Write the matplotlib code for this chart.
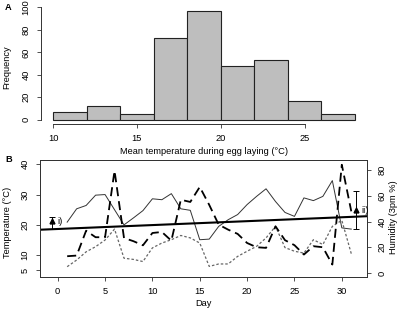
import matplotlib
matplotlib.use("Agg")
import matplotlib.pyplot as plt
import numpy as np

# ---- data ----
# panel A: histogram of mean temperature during egg laying
bin_edges = [10, 12, 14, 16, 18, 20, 22, 24, 26, 28]
counts = [7, 12, 5, 73, 97, 48, 53, 17, 5]

# panel B: daily weather
days = list(range(1, 32))
temp_max = [20.9, 25.3, 26.4, 29.8, 30.0, 25.0, 20.0, 22.3, 24.7, 28.6,
            28.3, 30.3, 25.3, 24.8, 15.1, 15.3, 19.5, 21.7, 23.4, 26.7,
            29.4, 31.9, 27.7, 24.1, 22.8, 28.9, 28.0, 29.4, 34.6, 19.0, 18.6]
temp_min = [6.2, 8.4, 11.1, 12.8, 15.0, 18.6, 9.0, 8.6, 7.9, 12.4,
            14.0, 15.1, 16.5, 15.7, 14.0, 6.3, 7.1, 7.1, 9.6, 11.3,
            12.9, 15.7, 19.5, 12.5, 11.3, 10.7, 15.1, 13.5, 19.5, 21.5, 10.5]
humidity = [13.0, 13.5, 32.9, 27.8, 27.8, 79.6, 27.2, 24.7, 21.5, 31.1,
            31.9, 25.1, 57.0, 55.3, 67.0, 53.0, 37.6, 33.7, 30.4, 23.3,
            20.0, 19.5, 36.3, 25.5, 21.6, 14.3, 20.8, 20.0, 6.5, 84.3, 48.0]

# trend line (temperature) : intercept, slope per day
trend_icpt = 18.64
trend_slope = 0.129

# summary bars i) temperature, ii) humidity
i_day, i_mean, i_lo, i_hi = -0.65, 21.2, 18.6, 22.6
ii_day, ii_mean, ii_lo, ii_hi = 31.5, 49.0, 34.0, 64.0

plt.rcParams['font.family'] = ['Liberation Sans', 'DejaVu Sans']
fs = 6.7

fig = plt.figure(figsize=(4, 3.1), dpi=100)

# ---------------- panel A ----------------
axA = fig.add_axes([41/400, 1-124/310, 326/400, 117.5/310])
axA.bar(bin_edges[:-1], counts, width=np.diff(bin_edges), align='edge',
        color='#bebebe', edgecolor='#222222', linewidth=0.8)
axA.set_xlim(9.28, 28.72)
axA.set_ylim(-3.88, 100.88)
for s in ['top', 'right']:
    axA.spines[s].set_visible(False)
axA.spines['left'].set_bounds(0, 100)
axA.spines['bottom'].set_bounds(10, 25)
axA.set_xticks([10, 15, 20, 25])
axA.set_yticks([0, 20, 40, 60, 80, 100])
axA.tick_params(labelsize=fs, length=3, width=0.6, pad=4.5, color='#333')
for lab in axA.get_yticklabels():
    lab.set_rotation(90)
    lab.set_va('center')
for s in axA.spines.values():
    s.set_linewidth(0.7)
    s.set_color('#333')

fig.text(7/400, 1-67/310, 'Frequency', rotation=90, ha='center', va='center', fontsize=fs)
fig.text(204/400, 1-152/310, 'Mean temperature during egg laying (°C)',
         ha='center', va='center', fontsize=fs)
fig.text(5/400, 1-7/310, 'A', fontsize=fs, fontweight='bold', ha='left', va='center')

# ---------------- panel B ----------------
axB = fig.add_axes([40/400, 1-277/310, 327/400, 117/310])
axH = axB.twinx()

axB.plot(days, temp_max, color='#333333', linewidth=0.7)
axB.plot(days, temp_min, color='#666666', linewidth=0.9, linestyle=(0, (2, 1.6)))
axB.axline((0, trend_icpt), slope=trend_slope, color='black', linewidth=1.5)
axH.plot(days, humidity, color='black', linewidth=1.3, linestyle=(0, (5, 2.8)))

axB.errorbar([i_day], [i_mean], yerr=[[i_mean - i_lo], [i_hi - i_mean]],
             fmt='^', color='black', markersize=3.5, capsize=2.5, elinewidth=0.7, capthick=0.7)
axB.text(i_day + 0.6, i_mean, 'i)', fontsize=fs, va='center', ha='left')
axH.errorbar([ii_day], [ii_mean], yerr=[[ii_mean - ii_lo], [ii_hi - ii_mean]],
             fmt='^', color='black', markersize=3.5, capsize=2.5, elinewidth=0.7, capthick=0.7)
axH.text(ii_day + 0.55, ii_mean, 'ii)', fontsize=fs, va='center', ha='left')

axB.set_xlim(-1.87, 32.66)
axB.set_ylim(2.8, 41.4)
axH.set_ylim(-3.2, 88.0)
axB.set_xticks([0, 5, 10, 15, 20, 25, 30])
axB.set_yticks([5, 10, 20, 30, 40])
axH.set_yticks([0, 20, 40, 60, 80])
for ax in (axB, axH):
    ax.tick_params(labelsize=fs, length=3, width=0.6, pad=4.5, color='#333')
    for s in ax.spines.values():
        s.set_linewidth(0.7)
        s.set_color('#333')
for lab in axB.get_yticklabels():
    lab.set_rotation(90)
    lab.set_va('center')
for lab in axH.get_yticklabels():
    lab.set_rotation(90)
    lab.set_va('center')

fig.text(7/400, 1-222/310, 'Temperature (°C)', rotation=90, ha='center', va='center', fontsize=fs)
fig.text(393/400, 1-217/310, 'Humidity (3pm %)', rotation=90, ha='center', va='center', fontsize=fs)
fig.text(203/400, 1-304/310, 'Day', ha='center', va='center', fontsize=fs)
fig.text(5/400, 1-160/310, 'B', fontsize=fs, fontweight='bold', ha='left', va='center')

fig.savefig('out.png', dpi=100)
